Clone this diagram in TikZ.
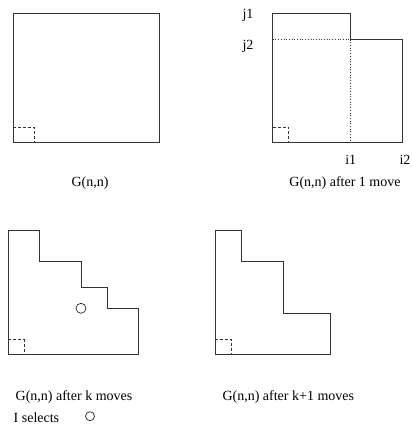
\documentclass[tikz,border=0pt]{standalone}
\usepackage{fontspec}
\setmainfont{Liberation Serif}
\begin{document}
\begin{tikzpicture}[x=1pt,y=1pt,
  outline/.style={draw=black!80,line width=0.8pt},
  corner/.style={draw=black!80,line width=0.7pt,dash pattern=on 3pt off 2pt},
  guide/.style={draw=black!80,line width=0.7pt,dotted},
  lbl/.style={inner sep=0pt,font=\fontsize{14}{16}\selectfont},
  dot/.style={circle,draw=black!85,line width=0.7pt,inner sep=0pt,minimum size=#1}]
\useasboundingbox (0,0) rectangle (412,424);
% Panel 1
\draw[outline] (13.3,282) rectangle (159,411);
\draw[corner] (13.3,297) -- (34,297) -- (34,282);
\node[lbl] (c1) at (90,241) {G(n,n)};
% Panel 2
\draw[outline] (272.7,282) -- (272.7,411) -- (350.3,411) -- (350.3,385) -- (402,385) -- (402,282) -- cycle;
\draw[guide] (272.7,385) -- (350.3,385) -- (350.3,282);
\draw[corner] (272.7,297) -- (288.3,297) -- (288.3,282);
\node[lbl] (j1) at (248,409) {j1};
\node[lbl] (j2) at (248,378) {j2};
\node[lbl] (i1) at (350.7,264) {i1};
\node[lbl] (i2) at (405,264) {i2};
\node[lbl] (c2) at (345,241) {G(n,n) after 1 move};
% Panel 3
\draw[outline] (8.3,69.7) -- (8.3,193.3) -- (39.3,193.3) -- (39.3,162.3) -- (81,162.3) -- (81,136.3) -- (107,136.3) -- (107,115.7) -- (138.3,115.7) -- (138.3,69.7) -- cycle;
\draw[corner] (8.3,84.7) -- (24,84.7) -- (24,69.7);
\node[dot=10pt] (sel) at (81,115.7) {};
\node[lbl] (c3) at (74,26.7) {G(n,n) after k moves};
\node[lbl,anchor=west] (isel) at (13.5,6.5) {I selects};
\node[dot=9pt] (legend) at (90,7.8) {};
% Panel 4
\draw[outline] (215.3,69.7) -- (215.3,193.3) -- (241.7,193.3) -- (241.7,162.3) -- (283.3,162.3) -- (283.3,110.7) -- (330,110.7) -- (330,69.7) -- cycle;
\draw[corner] (215.3,85) -- (231.3,85) -- (231.3,69.7);
\node[lbl] (c4) at (288.3,27.3) {G(n,n) after k+1 moves};
\end{tikzpicture}
\end{document}
